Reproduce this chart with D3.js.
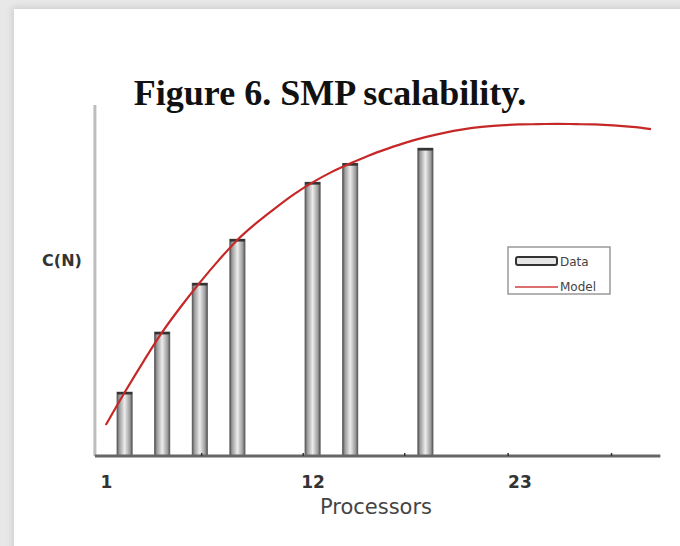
<!DOCTYPE html>
<html>
<head>
<meta charset="utf-8">
<script src="https://cdn.jsdelivr.net/npm/d3@7/dist/d3.min.js"></script>
<style>
  html, body { margin: 0; padding: 0; background: #e8e8e8; }
  svg { display: block; }
</style>
</head>
<body>
<script>
// ---- data ----
const titleText = "Figure 6. SMP scalability.";
const xLabel = "Processors";
const yLabel = "C(N)";
const xTickValues = [1, 12, 23];
const minorTickValues = [6.1, 11.5, 16.9, 22.4, 27.9];
const dataProcessors = [2, 4, 6, 8, 12, 14, 18];
const dataValues = [2.06, 4.0, 5.58, 7.0, 8.84, 9.45, 9.94];
const modelProcessors = [1, 2, 3, 4, 5, 6, 7, 8, 9, 10, 11, 12, 13, 14, 15, 16, 17, 18, 19, 20, 21, 22, 23, 24, 25, 26, 27, 28, 29, 30];
const modelValues = [1.0, 2.05, 3.05, 4.0, 4.83, 5.6, 6.32, 6.98, 7.52, 8.0, 8.45, 8.84, 9.17, 9.45, 9.71, 9.93, 10.13, 10.3, 10.44, 10.55, 10.63, 10.68, 10.71, 10.72, 10.73, 10.72, 10.71, 10.68, 10.63, 10.56];
const legendLabels = ["Data", "Model"];

// ---- layout ----
const W = 680, H = 546;
const svg = d3.select("body").append("svg").attr("width", W).attr("height", H);
const defs = svg.append("defs");

const shadow = defs.append("filter").attr("id", "shadow").attr("x", "-5%").attr("y", "-5%").attr("width", "110%").attr("height", "110%");
shadow.append("feGaussianBlur").attr("stdDeviation", 3);

const grad = defs.append("linearGradient").attr("id", "barGrad").attr("x1", "0%").attr("x2", "100%");
[["0%", "#555"], ["14%", "#9a9a9a"], ["50%", "#ececec"], ["86%", "#9a9a9a"], ["100%", "#555"]]
  .forEach(([o, c]) => grad.append("stop").attr("offset", o).attr("stop-color", c));

// background card
svg.append("rect").attr("width", W).attr("height", H).attr("fill", "#e8e8e8");
svg.append("rect").attr("x", 12).attr("y", 7).attr("width", W).attr("height", H)
  .attr("fill", "#cfcfcf").attr("filter", "url(#shadow)");
svg.append("rect").attr("x", 14).attr("y", 9).attr("width", W).attr("height", H).attr("fill", "#ffffff");

const x = d3.scaleLinear().domain([1, 30]).range([105.8, 651]);
const y = d3.scaleLinear().domain([0, 11.5]).range([456, 100]);
const axisXStart = 0.42, axisXEnd = 30.5, axisYTop = 11.34;
const barW = 15;

// title
svg.append("text").attr("x", 330).attr("y", 105).attr("text-anchor", "middle")
  .attr("font-family", "'Liberation Serif', 'Times New Roman', serif")
  .attr("font-weight", "bold").attr("font-size", 36).attr("fill", "#111")
  .text(titleText);

// y axis line
svg.append("line").attr("x1", x(axisXStart)).attr("x2", x(axisXStart))
  .attr("y1", y(0)).attr("y2", y(axisYTop))
  .attr("stroke", "#bdbdbd").attr("stroke-width", 3);

// bars
const bars = svg.append("g");
dataProcessors.forEach((p, i) => {
  bars.append("rect")
    .attr("x", x(p) - barW / 2).attr("y", y(dataValues[i]))
    .attr("width", barW).attr("height", y(0) - y(dataValues[i]))
    .attr("fill", "url(#barGrad)").attr("stroke", "#5a5a5a").attr("stroke-width", 1);
  bars.append("line")
    .attr("x1", x(p) - barW / 2).attr("x2", x(p) + barW / 2)
    .attr("y1", y(dataValues[i]) + 1).attr("y2", y(dataValues[i]) + 1)
    .attr("stroke", "#333").attr("stroke-width", 2.5);
});

// x axis line
svg.append("line").attr("x1", x(axisXStart)).attr("x2", x(axisXEnd))
  .attr("y1", y(0)).attr("y2", y(0))
  .attr("stroke", "#666").attr("stroke-width", 3);
svg.append("g").selectAll("line").data(minorTickValues).join("line")
  .attr("x1", d => x(d)).attr("x2", d => x(d))
  .attr("y1", y(0) - 3).attr("y2", y(0))
  .attr("stroke", "#333").attr("stroke-width", 1.5);

// model curve
const line = d3.line().x((d, i) => x(modelProcessors[i])).y(d => y(d)).curve(d3.curveCatmullRom);
svg.append("path").datum(modelValues).attr("d", line)
  .attr("fill", "none").attr("stroke", "#c62828").attr("stroke-width", 2.2);

// x tick labels
const xAxis = d3.axisBottom(x).tickValues(xTickValues).tickSize(0).tickPadding(0).tickFormat(d3.format("d"));
const gx = svg.append("g").attr("transform", `translate(0,${y(0) + 32})`).call(xAxis);
gx.select(".domain").remove();
gx.selectAll("text").attr("dy", 0).attr("font-family", "'DejaVu Sans', Verdana, sans-serif")
  .attr("font-size", 17).attr("font-weight", "bold").attr("fill", "#333");

// x label
svg.append("text").attr("x", 376).attr("y", 514).attr("text-anchor", "middle")
  .attr("font-family", "'DejaVu Sans', Verdana, sans-serif").attr("font-size", 21).attr("fill", "#444")
  .text(xLabel);

// y label
svg.append("text").attr("x", 62).attr("y", 266).attr("text-anchor", "middle")
  .attr("font-family", "'DejaVu Sans', Verdana, sans-serif").attr("font-size", 16).attr("font-weight", "bold").attr("fill", "#333")
  .text(yLabel);

// legend
const lg = svg.append("g");
lg.append("rect").attr("x", 508).attr("y", 247).attr("width", 102).attr("height", 47)
  .attr("fill", "#fff").attr("stroke", "#999").attr("stroke-width", 1.5);
lg.append("rect").attr("x", 516).attr("y", 257).attr("width", 41).attr("height", 8).attr("rx", 2)
  .attr("fill", "#e6e6e6").attr("stroke", "#333").attr("stroke-width", 2);
lg.append("line").attr("x1", 515).attr("x2", 558).attr("y1", 287).attr("y2", 287)
  .attr("stroke", "#d04040").attr("stroke-width", 1.5);
lg.selectAll("text").data(legendLabels).join("text")
  .attr("x", 560).attr("y", (d, i) => 266 + i * 25)
  .attr("font-family", "'DejaVu Sans', Verdana, sans-serif").attr("font-size", 12).attr("fill", "#444")
  .text(d => d);
</script>
</body>
</html>
